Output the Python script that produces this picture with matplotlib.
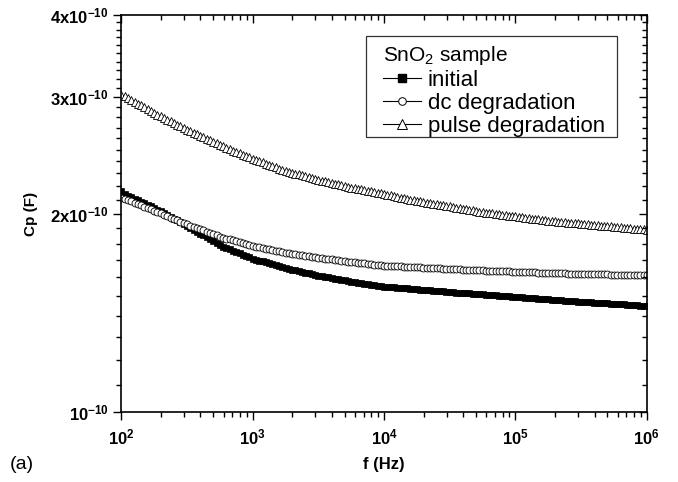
import matplotlib

matplotlib.use("Agg")
import matplotlib.pyplot as plt
from matplotlib.lines import Line2D
from matplotlib.patches import Rectangle
from matplotlib.ticker import FixedLocator, NullFormatter, LogLocator

plt.rcParams["font.family"] = ["Liberation Sans", "DejaVu Sans"]
plt.rcParams["mathtext.fontset"] = "custom"
plt.rcParams["mathtext.rm"] = "Liberation Sans"
plt.rcParams["mathtext.bf"] = "Liberation Sans:bold"
plt.rcParams["mathtext.it"] = "Liberation Sans:italic"

# frequency sweep (Hz), 40 points per decade
FREQ_HZ = [
    1.000e2, 1.059e2, 1.122e2, 1.189e2, 1.259e2, 1.334e2, 1.413e2, 1.496e2, 1.585e2, 1.679e2,
    1.778e2, 1.884e2, 1.995e2, 2.113e2, 2.239e2, 2.371e2, 2.512e2, 2.661e2, 2.818e2, 2.985e2,
    3.162e2, 3.350e2, 3.548e2, 3.758e2, 3.981e2, 4.217e2, 4.467e2, 4.732e2, 5.012e2, 5.309e2,
    5.623e2, 5.957e2, 6.310e2, 6.683e2, 7.079e2, 7.499e2, 7.943e2, 8.414e2, 8.913e2, 9.441e2,
    1.000e3, 1.059e3, 1.122e3, 1.189e3, 1.259e3, 1.334e3, 1.413e3, 1.496e3, 1.585e3, 1.679e3,
    1.778e3, 1.884e3, 1.995e3, 2.113e3, 2.239e3, 2.371e3, 2.512e3, 2.661e3, 2.818e3, 2.985e3,
    3.162e3, 3.350e3, 3.548e3, 3.758e3, 3.981e3, 4.217e3, 4.467e3, 4.732e3, 5.012e3, 5.309e3,
    5.623e3, 5.957e3, 6.310e3, 6.683e3, 7.079e3, 7.499e3, 7.943e3, 8.414e3, 8.913e3, 9.441e3,
    1.000e4, 1.059e4, 1.122e4, 1.189e4, 1.259e4, 1.334e4, 1.413e4, 1.496e4, 1.585e4, 1.679e4,
    1.778e4, 1.884e4, 1.995e4, 2.113e4, 2.239e4, 2.371e4, 2.512e4, 2.661e4, 2.818e4, 2.985e4,
    3.162e4, 3.350e4, 3.548e4, 3.758e4, 3.981e4, 4.217e4, 4.467e4, 4.732e4, 5.012e4, 5.309e4,
    5.623e4, 5.957e4, 6.310e4, 6.683e4, 7.079e4, 7.499e4, 7.943e4, 8.414e4, 8.913e4, 9.441e4,
    1.000e5, 1.059e5, 1.122e5, 1.189e5, 1.259e5, 1.334e5, 1.413e5, 1.496e5, 1.585e5, 1.679e5,
    1.778e5, 1.884e5, 1.995e5, 2.113e5, 2.239e5, 2.371e5, 2.512e5, 2.661e5, 2.818e5, 2.985e5,
    3.162e5, 3.350e5, 3.548e5, 3.758e5, 3.981e5, 4.217e5, 4.467e5, 4.732e5, 5.012e5, 5.309e5,
    5.623e5, 5.957e5, 6.310e5, 6.683e5, 7.079e5, 7.499e5, 7.943e5, 8.414e5, 8.913e5, 9.441e5,
    1.000e6,
]

# Cp in units of 1e-10 F
CP_INITIAL = [
    2.165, 2.139, 2.128, 2.117, 2.106, 2.095, 2.084, 2.073, 2.062, 2.051,
    2.040, 2.028, 2.015, 2.003, 1.990, 1.978, 1.965, 1.953, 1.940, 1.928,
    1.915, 1.903, 1.890, 1.878, 1.865, 1.853, 1.840, 1.828, 1.815, 1.803,
    1.790, 1.782, 1.774, 1.765, 1.757, 1.749, 1.741, 1.733, 1.724, 1.716,
    1.708, 1.703, 1.697, 1.692, 1.686, 1.681, 1.675, 1.670, 1.664, 1.659,
    1.653, 1.649, 1.644, 1.640, 1.636, 1.632, 1.627, 1.623, 1.619, 1.614,
    1.610, 1.607, 1.603, 1.600, 1.597, 1.594, 1.590, 1.587, 1.584, 1.580,
    1.577, 1.574, 1.572, 1.569, 1.566, 1.564, 1.561, 1.558, 1.555, 1.553,
    1.550, 1.549, 1.547, 1.546, 1.544, 1.543, 1.541, 1.540, 1.538, 1.537,
    1.535, 1.534, 1.532, 1.531, 1.529, 1.528, 1.527, 1.525, 1.524, 1.522,
    1.521, 1.520, 1.518, 1.517, 1.516, 1.515, 1.513, 1.512, 1.511, 1.509,
    1.508, 1.507, 1.505, 1.504, 1.503, 1.502, 1.500, 1.499, 1.498, 1.496,
    1.495, 1.494, 1.492, 1.491, 1.490, 1.489, 1.487, 1.486, 1.485, 1.483,
    1.482, 1.481, 1.480, 1.478, 1.477, 1.476, 1.475, 1.474, 1.472, 1.471,
    1.470, 1.469, 1.468, 1.467, 1.466, 1.465, 1.463, 1.462, 1.461, 1.460,
    1.459, 1.458, 1.457, 1.456, 1.455, 1.454, 1.452, 1.451, 1.450, 1.449,
    1.448,
]

CP_DC = [
    2.115, 2.105, 2.096, 2.086, 2.077, 2.067, 2.058, 2.048, 2.039, 2.029,
    2.020, 2.010, 2.001, 1.991, 1.982, 1.972, 1.963, 1.953, 1.944, 1.934,
    1.925, 1.917, 1.909, 1.901, 1.893, 1.885, 1.877, 1.869, 1.861, 1.853,
    1.845, 1.839, 1.833, 1.827, 1.821, 1.815, 1.809, 1.803, 1.797, 1.791,
    1.785, 1.781, 1.777, 1.773, 1.769, 1.765, 1.761, 1.757, 1.753, 1.749,
    1.745, 1.742, 1.739, 1.736, 1.733, 1.730, 1.726, 1.723, 1.720, 1.717,
    1.714, 1.711, 1.709, 1.706, 1.704, 1.701, 1.698, 1.696, 1.693, 1.691,
    1.688, 1.686, 1.684, 1.682, 1.680, 1.678, 1.676, 1.674, 1.672, 1.670,
    1.668, 1.667, 1.666, 1.665, 1.664, 1.663, 1.662, 1.661, 1.660, 1.659,
    1.658, 1.657, 1.656, 1.655, 1.654, 1.653, 1.652, 1.651, 1.650, 1.649,
    1.648, 1.647, 1.646, 1.646, 1.645, 1.644, 1.643, 1.642, 1.642, 1.641,
    1.640, 1.639, 1.638, 1.638, 1.637, 1.636, 1.635, 1.634, 1.634, 1.633,
    1.632, 1.631, 1.631, 1.630, 1.629, 1.629, 1.628, 1.627, 1.627, 1.626,
    1.625, 1.625, 1.624, 1.624, 1.623, 1.623, 1.622, 1.622, 1.621, 1.621,
    1.620, 1.620, 1.619, 1.619, 1.618, 1.618, 1.618, 1.617, 1.617, 1.616,
    1.616, 1.616, 1.615, 1.615, 1.615, 1.614, 1.614, 1.614, 1.613, 1.613,
    1.613,
]

CP_PULSE = [
    3.030, 3.011, 2.992, 2.973, 2.954, 2.935, 2.916, 2.897, 2.878, 2.859,
    2.840, 2.824, 2.808, 2.792, 2.776, 2.760, 2.744, 2.728, 2.712, 2.696,
    2.680, 2.666, 2.652, 2.638, 2.624, 2.610, 2.596, 2.582, 2.568, 2.554,
    2.540, 2.528, 2.516, 2.504, 2.492, 2.480, 2.468, 2.456, 2.444, 2.432,
    2.420, 2.410, 2.400, 2.390, 2.380, 2.370, 2.360, 2.350, 2.340, 2.330,
    2.320, 2.313, 2.306, 2.299, 2.292, 2.285, 2.278, 2.271, 2.264, 2.257,
    2.250, 2.244, 2.238, 2.232, 2.226, 2.220, 2.214, 2.208, 2.202, 2.196,
    2.190, 2.185, 2.180, 2.175, 2.170, 2.165, 2.160, 2.155, 2.150, 2.145,
    2.140, 2.135, 2.130, 2.125, 2.120, 2.115, 2.110, 2.105, 2.100, 2.095,
    2.090, 2.086, 2.082, 2.078, 2.074, 2.070, 2.066, 2.062, 2.058, 2.054,
    2.050, 2.046, 2.042, 2.038, 2.034, 2.030, 2.026, 2.022, 2.018, 2.014,
    2.010, 2.007, 2.004, 2.001, 1.998, 1.995, 1.992, 1.989, 1.986, 1.983,
    1.980, 1.977, 1.974, 1.971, 1.968, 1.965, 1.962, 1.959, 1.956, 1.953,
    1.950, 1.948, 1.946, 1.944, 1.942, 1.940, 1.938, 1.936, 1.934, 1.932,
    1.930, 1.928, 1.926, 1.924, 1.922, 1.920, 1.918, 1.916, 1.914, 1.912,
    1.910, 1.908, 1.906, 1.904, 1.902, 1.900, 1.898, 1.896, 1.894, 1.892,
    1.890,
]

Y_MAJOR = [1e-10, 2e-10, 3e-10, 4e-10]
Y_MAJOR_LABELS = [r"$\mathdefault{10^{-10}}$", r"$\mathdefault{2x10^{-10}}$",
                  r"$\mathdefault{3x10^{-10}}$", r"$\mathdefault{4x10^{-10}}$"]
Y_MINOR = [m * 1e-11 for m in range(11, 40) if m % 10 != 0]
X_MAJOR = [1e2, 1e3, 1e4, 1e5, 1e6]
X_MAJOR_LABELS = [r"$\mathdefault{10^{2}}$", r"$\mathdefault{10^{3}}$",
                  r"$\mathdefault{10^{4}}$", r"$\mathdefault{10^{5}}$",
                  r"$\mathdefault{10^{6}}$"]
SERIES_LABELS = ["initial", "dc degradation", "pulse degradation"]


def scaled(values):
    return [v * 1e-10 for v in values]


def setup_log_axes(axis):
    axis.set_xscale("log")
    axis.set_yscale("log")
    axis.set_xlim(1e2, 1e6)
    axis.set_ylim(1e-10, 4e-10)
    axis.xaxis.set_major_locator(FixedLocator(X_MAJOR))
    axis.xaxis.set_minor_locator(LogLocator(base=10, subs=range(2, 10)))
    axis.yaxis.set_major_locator(FixedLocator(Y_MAJOR))
    axis.yaxis.set_minor_locator(FixedLocator(Y_MINOR))
    axis.xaxis.set_minor_formatter(NullFormatter())
    axis.yaxis.set_minor_formatter(NullFormatter())


fig = plt.figure(figsize=(6.78, 4.82), dpi=100)
rect = [0.179, 0.145, 0.775, 0.824]
ax = fig.add_axes(rect)

ax.plot(FREQ_HZ, scaled(CP_INITIAL), color="black", lw=0.8, marker="s", ms=4.2,
        mfc="black", mec="black", mew=0.5)
ax.plot(FREQ_HZ, scaled(CP_DC), color="black", lw=0.8, marker="o", ms=5.0,
        mfc="white", mec="black", mew=0.6)
ax.plot(FREQ_HZ, scaled(CP_PULSE), color="black", lw=0.8, marker="^", ms=5.6,
        mfc="white", mec="black", mew=0.6)

setup_log_axes(ax)
ax.set_xticks(X_MAJOR, X_MAJOR_LABELS)
ax.set_yticks(Y_MAJOR, Y_MAJOR_LABELS)
ax.tick_params(which="major", direction="out", length=6, width=1.0, labelsize=12, pad=3)
ax.tick_params(which="minor", direction="out", length=3.5, width=1.0)
ax.tick_params(axis="x", which="major", pad=5)
for lbl in ax.get_xticklabels() + ax.get_yticklabels():
    lbl.set_fontweight("bold")
for spine in ax.spines.values():
    spine.set_linewidth(1.2)

# mirrored ticks pointing inward on top and right
mirror = fig.add_axes(rect, frameon=False, label="mirror")
setup_log_axes(mirror)
mirror.tick_params(which="major", direction="in", length=6, width=1.0)
mirror.tick_params(which="minor", direction="in", length=3.5, width=1.0)
mirror.tick_params(which="both", top=True, right=True, bottom=False, left=False,
                   labelbottom=False, labelleft=False)

ax.set_xlabel("f (Hz)", fontsize=12, fontweight="bold", labelpad=7)
ax.set_ylabel("Cp (F)", fontsize=11, fontweight="bold", labelpad=9)
fig.text(0.015, 0.028, "(a)", fontsize=14)

# legend frame drawn separately so the padding can be uneven like the original
mirror.add_patch(Rectangle((0.465, 0.693), 0.478, 0.254, transform=mirror.transAxes,
                           facecolor="white", edgecolor="#333333", linewidth=0.9,
                           zorder=4))
handles = [
    Line2D([], [], color="black", lw=0.8, marker="s", ms=5.5, mfc="black", mec="black"),
    Line2D([], [], color="black", lw=0.8, marker="o", ms=5.5, mfc="white", mec="black", mew=0.7),
    Line2D([], [], color="black", lw=0.8, marker="^", ms=6.5, mfc="white", mec="black", mew=0.7),
]
leg = mirror.legend(handles, SERIES_LABELS, title="SnO$_2$ sample", loc="upper left",
                    bbox_to_anchor=(0.4976, 0.926), borderaxespad=0, borderpad=0,
                    fontsize=16, title_fontsize=15, alignment="left",
                    handlelength=1.7, handletextpad=0.33, labelspacing=0.1,
                    frameon=False, numpoints=1)
leg.set_zorder(5)

fig.savefig("out.png", dpi=100)
